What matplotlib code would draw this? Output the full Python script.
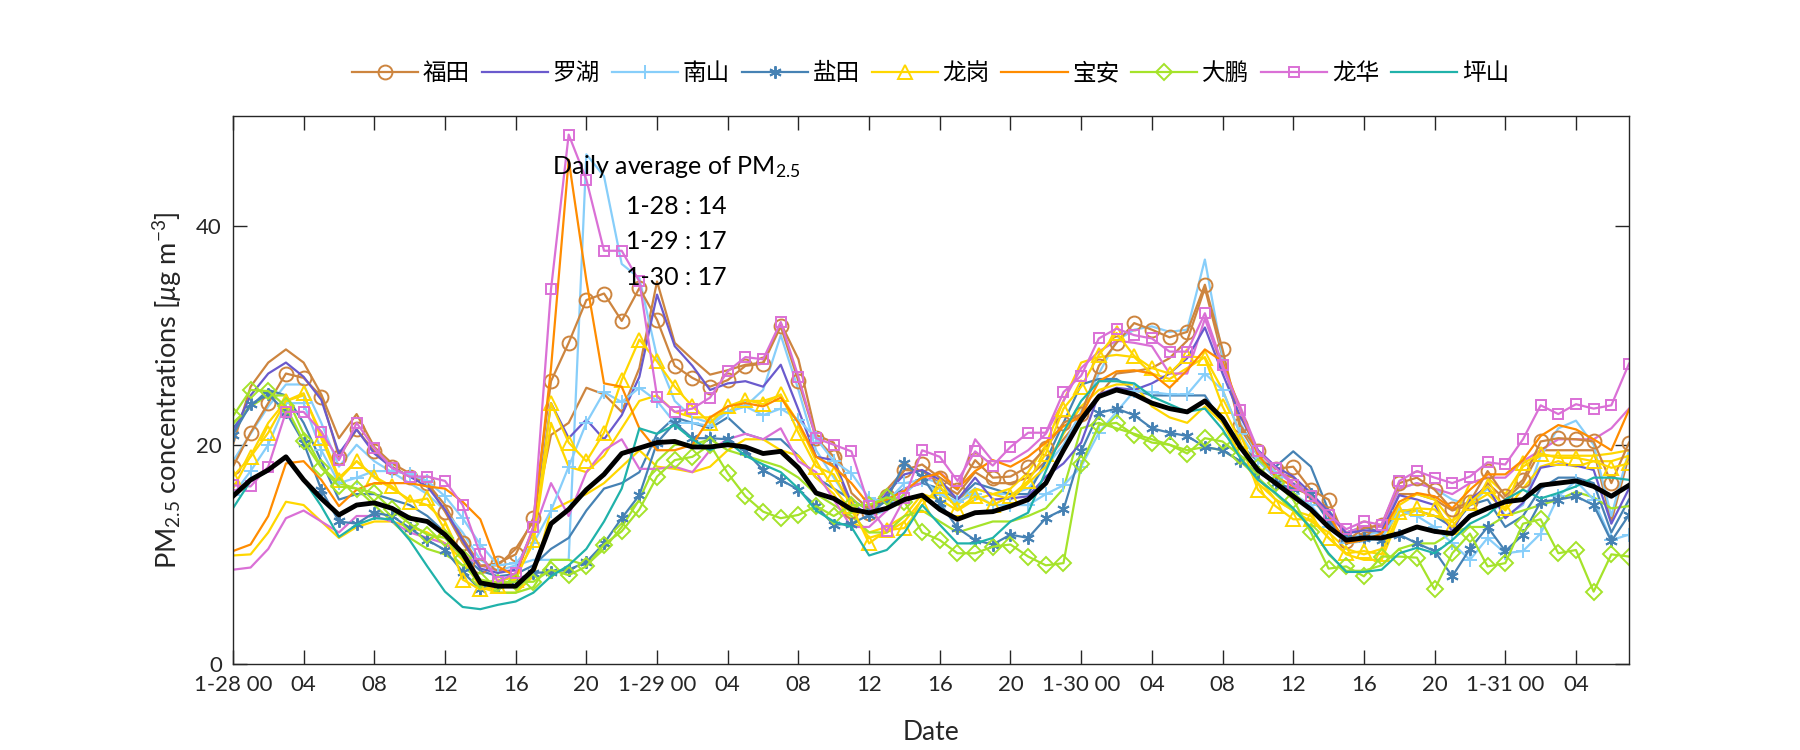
import numpy as np
import matplotlib.pyplot as plt

plt.rcParams['font.family'] = ['Lato', 'Noto Sans CJK SC', 'DejaVu Sans']
plt.rcParams['mathtext.fontset'] = 'custom'
plt.rcParams['mathtext.rm'] = 'Lato'
plt.rcParams['mathtext.it'] = 'Lato:italic'

# hourly data, 1-28 00 to 1-31 07
hours = np.arange(80)

futian = [18.0, 21.1, 23.8, 26.5, 26.1, 24.4, 18.9, 21.4, 19.4, 18.0,
          17.1, 16.5, 13.9, 11.0, 8.9, 9.2, 10.0, 13.3, 25.8, 29.3,
          33.2, 33.8, 31.3, 34.3, 31.4, 27.2, 26.1, 25.3, 25.9, 27.2,
          27.4, 30.8, 25.8, 20.6, 18.9, 14.0, 13.8, 15.3, 17.7, 18.2,
          17.0, 15.9, 18.6, 17.0, 17.1, 18.0, 19.7, 22.0, 22.8, 27.2,
          29.3, 31.1, 30.5, 29.8, 30.3, 34.6, 28.7, 21.8, 19.4, 17.8,
          18.0, 15.9, 15.0, 11.2, 12.4, 12.7, 16.5, 17.0, 15.9, 14.1,
          14.8, 17.6, 15.3, 16.8, 20.3, 20.6, 20.5, 20.3, 16.5, 20.2]
futian2 = [20.0, 25.3, 27.5, 28.7, 27.5, 24.6, 20.6, 22.8, 19.8, 18.3,
           17.4, 16.5, 14.5, 11.5, 9.0, 9.0, 10.5, 13.0, 20.9, 22.0,
           25.2, 24.6, 23.0, 27.0, 34.9, 29.3, 27.8, 26.4, 26.8, 27.3,
           27.5, 31.1, 27.8, 20.9, 20.2, 15.6, 14.1, 15.9, 17.7, 17.6,
           16.5, 15.5, 17.5, 16.5, 16.5, 17.0, 18.5, 20.5, 22.5, 24.5,
           26.5, 26.7, 27.0, 27.9, 29.5, 34.3, 28.0, 21.5, 19.0, 17.5,
           17.0, 15.0, 13.5, 11.0, 12.0, 12.0, 15.5, 15.5, 15.0, 14.0,
           14.5, 16.5, 15.0, 16.5, 19.5, 19.5, 19.5, 19.5, 13.0, 19.0]
luohu = [21.0, 24.5, 26.5, 27.5, 26.2, 24.1, 19.2, 21.4, 19.2, 17.9,
         17.1, 16.2, 14.1, 11.3, 8.7, 8.3, 8.6, 12.2, 23.8, 20.6,
         22.3, 20.5, 22.7, 26.2, 33.7, 29.0, 27.2, 25.0, 25.6, 25.8,
         25.3, 27.3, 23.2, 18.9, 18.6, 14.7, 13.5, 15.6, 17.3, 17.7,
         16.8, 15.0, 17.0, 15.0, 15.1, 15.3, 17.1, 18.3, 20.2, 24.6,
         25.2, 25.0, 25.6, 26.5, 27.9, 30.7, 26.5, 22.6, 19.5, 18.0,
         17.1, 15.6, 13.9, 11.9, 12.2, 12.1, 15.4, 15.0, 14.5, 12.1,
         15.0, 16.2, 13.3, 14.7, 17.9, 18.2, 18.1, 17.7, 12.8, 16.0]
nanshan = [15.4, 17.6, 20.0, 23.8, 23.8, 19.5, 16.5, 17.0, 17.6, 17.6,
           17.3, 16.7, 15.3, 13.3, 10.9, 9.0, 9.2, 11.0, 14.0, 18.0,
           22.0, 24.8, 23.9, 25.2, 24.0, 22.0, 22.0, 21.7, 23.0, 23.5,
           22.7, 23.3, 22.3, 20.6, 18.5, 17.4, 15.1, 14.8, 16.5, 16.8,
           15.5, 14.8, 15.5, 14.5, 14.5, 14.5, 15.5, 16.3, 18.0, 21.1,
           23.0, 24.9, 24.8, 24.6, 24.6, 26.5, 25.0, 21.0, 18.5, 17.0,
           15.5, 14.5, 12.5, 11.0, 11.2, 11.5, 14.0, 13.5, 12.5, 11.0,
           9.5, 11.5, 10.1, 10.3, 11.9, 15.3, 16.7, 15.0, 11.3, 11.8]
nanshan2 = [18.5, 21.0, 23.5, 25.5, 25.5, 22.0, 18.0, 20.0, 18.5, 17.5,
            16.5, 15.5, 14.0, 12.0, 9.5, 8.5, 9.0, 9.5, 9.5, 9.5,
            46.5, 44.5, 36.5, 35.2, 28.0, 24.0, 22.5, 22.0, 23.0, 23.5,
            25.0, 30.0, 25.0, 19.5, 17.0, 14.5, 13.5, 14.0, 15.5, 17.0,
            16.5, 15.0, 16.0, 15.5, 15.5, 16.0, 18.0, 20.0, 23.0, 26.5,
            29.5, 30.5, 30.8, 30.3, 30.5, 36.9, 28.0, 22.0, 19.0, 17.5,
            16.5, 15.5, 13.0, 11.5, 11.8, 12.0, 16.0, 16.5, 16.0, 15.0,
            14.5, 16.0, 13.5, 14.5, 19.0, 21.5, 22.2, 20.0, 13.5, 19.5]
yantian = [20.9, 23.7, 24.6, 23.0, 20.2, 15.9, 13.0, 12.8, 13.8, 13.5,
           12.4, 11.3, 10.4, 8.4, 6.8, 7.2, 7.7, 8.3, 8.4, 8.6,
           9.3, 11.0, 13.3, 15.4, 20.2, 22.0, 20.6, 20.6, 20.5, 19.4,
           17.7, 16.8, 15.9, 14.4, 12.7, 12.8, 13.6, 15.0, 18.3, 17.1,
           14.7, 12.4, 11.3, 10.9, 11.8, 11.5, 13.3, 14.1, 19.4, 22.9,
           23.3, 22.7, 21.5, 21.1, 20.8, 19.8, 19.5, 18.5, 17.5, 16.5,
           16.0, 15.5, 13.0, 11.5, 11.5, 11.3, 11.8, 11.0, 10.3, 8.0,
           10.5, 12.5, 10.3, 11.8, 14.8, 15.0, 15.3, 14.5, 11.2, 13.6]
yantian2 = [21.5, 23.5, 25.0, 24.5, 22.0, 18.5, 15.0, 15.5, 15.5, 15.0,
            14.5, 13.5, 12.0, 10.0, 8.5, 8.0, 8.2, 9.0, 10.5, 11.5,
            14.0, 16.0, 16.5, 17.5, 21.0, 22.5, 22.0, 21.5, 22.5, 21.0,
            20.5, 20.5, 19.0, 17.0, 16.0, 15.0, 14.0, 15.0, 16.0, 16.5,
            16.0, 15.0, 16.5, 16.0, 15.5, 15.5, 18.5, 22.0, 25.5, 26.0,
            26.0, 25.0, 24.5, 24.5, 24.5, 24.5, 22.0, 20.0, 18.5, 18.0,
            19.4, 18.0, 14.0, 12.0, 12.5, 12.0, 14.0, 14.0, 13.5, 12.5,
            14.5, 15.0, 12.5, 13.5, 16.0, 17.0, 17.0, 16.5, 12.0, 15.0]
longgang = [17.1, 18.9, 21.1, 24.0, 24.7, 20.6, 16.8, 18.5, 17.1, 16.2,
            14.8, 15.1, 12.2, 7.7, 6.8, 7.1, 7.7, 11.3, 23.8, 20.2,
            18.5, 21.1, 25.9, 29.6, 27.6, 25.3, 23.5, 22.0, 23.5, 24.1,
            23.7, 24.6, 21.1, 18.0, 17.3, 14.4, 11.0, 12.2, 12.4, 14.5,
            16.2, 14.1, 15.3, 14.5, 15.3, 16.7, 19.2, 23.3, 25.3, 28.2,
            30.2, 28.1, 27.0, 26.5, 28.1, 27.9, 23.5, 20.3, 15.9, 14.4,
            13.2, 13.2, 11.5, 10.1, 10.3, 10.0, 13.9, 14.2, 14.1, 12.5,
            14.7, 16.2, 14.2, 18.3, 19.2, 18.8, 18.8, 18.5, 17.9, 18.3]
longgang2 = [9.9, 10.0, 12.0, 14.8, 14.5, 13.0, 11.5, 12.5, 13.0, 13.0,
             12.5, 12.0, 11.0, 9.5, 7.0, 6.5, 6.5, 8.0, 14.0, 14.8,
             15.5, 16.5, 18.0, 19.5, 18.0, 17.8, 17.5, 18.0, 19.5, 20.5,
             20.5, 19.5, 19.0, 17.0, 15.5, 13.0, 12.0, 12.5, 13.5, 15.5,
             15.0, 14.0, 15.0, 15.5, 15.0, 16.5, 18.0, 21.0, 23.5, 25.0,
             25.5, 25.5, 23.5, 22.5, 22.0, 23.5, 22.0, 19.0, 16.5, 15.0,
             14.0, 13.5, 11.5, 10.0, 9.5, 9.5, 13.5, 14.0, 13.5, 13.0,
             14.5, 15.5, 14.0, 16.0, 18.0, 18.5, 18.0, 18.5, 18.5, 19.0]
longgang3 = [16.0, 19.0, 22.0, 24.0, 24.5, 21.0, 17.0, 18.5, 17.0, 16.0,
             15.0, 14.5, 13.0, 9.5, 7.5, 7.5, 8.0, 11.0, 22.0, 18.0,
             17.5, 19.0, 21.5, 24.0, 24.5, 23.0, 22.5, 22.5, 23.0, 24.0,
             24.0, 24.5, 22.0, 18.5, 16.0, 14.0, 11.5, 12.0, 13.0, 15.0,
             15.5, 14.5, 16.0, 15.5, 16.0, 17.5, 20.0, 24.0, 27.5, 28.0,
             28.2, 28.0, 26.5, 26.0, 27.0, 28.0, 25.0, 21.0, 17.0, 15.0,
             14.0, 13.0, 12.0, 10.5, 10.0, 10.5, 14.5, 15.5, 15.0, 13.0,
             16.5, 17.0, 15.5, 18.0, 19.0, 19.0, 19.0, 19.0, 19.2, 19.5]
baoan = [10.3, 10.9, 13.5, 18.3, 18.5, 16.8, 14.4, 15.9, 16.5, 16.5,
         16.5, 16.2, 16.0, 14.8, 13.2, 8.9, 8.0, 12.5, 27.0, 46.0,
         35.0, 25.6, 25.3, 21.5, 19.5, 19.5, 20.0, 22.5, 23.5, 23.8,
         23.5, 24.3, 22.0, 18.9, 18.0, 16.5, 14.5, 15.0, 15.8, 17.0,
         17.4, 16.0, 17.6, 18.6, 18.0, 18.9, 20.2, 21.7, 22.6, 25.8,
         26.7, 26.8, 26.5, 25.2, 26.8, 28.7, 27.6, 23.2, 19.1, 17.1,
         16.2, 15.3, 13.6, 11.0, 11.3, 11.9, 14.8, 15.6, 15.3, 14.2,
         15.9, 17.3, 17.3, 18.6, 20.8, 21.8, 21.4, 20.5, 19.5, 23.2]
dapeng = [22.6, 25.0, 24.9, 23.5, 20.3, 17.9, 16.2, 16.0, 15.6, 14.1,
          12.8, 11.8, 11.5, 9.7, 7.7, 7.4, 7.5, 7.5, 8.6, 8.1,
          8.9, 10.9, 12.1, 14.1, 17.1, 18.6, 18.9, 20.0, 17.4, 15.3,
          13.9, 13.3, 13.6, 14.4, 13.5, 14.5, 14.5, 15.2, 14.8, 12.0,
          11.3, 10.1, 10.1, 10.7, 10.9, 9.8, 9.0, 9.2, 18.2, 21.8,
          22.0, 20.9, 20.2, 20.0, 19.2, 20.6, 20.3, 19.0, 18.0, 16.5,
          15.0, 12.0, 8.7, 8.9, 8.0, 9.8, 9.8, 9.7, 6.8, 10.1,
          11.9, 8.9, 9.2, 12.8, 13.2, 10.1, 10.4, 6.6, 10.0, 9.8]
dapeng2 = [22.0, 23.5, 24.5, 24.5, 21.0, 18.0, 16.5, 16.0, 14.5, 13.0,
           11.5, 10.5, 10.0, 9.0, 7.5, 6.5, 6.5, 7.0, 9.5, 9.5,
           9.0, 10.5, 12.5, 15.0, 18.5, 20.0, 20.0, 20.5, 19.5, 19.0,
           18.5, 18.0, 17.0, 15.5, 14.5, 13.5, 12.0, 12.0, 13.5, 14.0,
           13.0, 12.0, 12.5, 13.0, 13.0, 13.5, 14.2, 16.0, 21.5, 22.0,
           21.5, 21.0, 20.5, 20.0, 19.5, 19.8, 19.5, 18.5, 17.0, 15.5,
           14.0, 12.5, 10.0, 8.5, 8.5, 9.0, 10.5, 11.0, 11.0, 12.0,
           12.5, 12.5, 13.5, 14.0, 14.5, 15.0, 15.7, 15.2, 14.2, 14.4]
longhua = [16.3, 16.2, 18.0, 23.0, 23.0, 21.2, 18.6, 22.0, 19.7, 17.9,
           17.1, 17.1, 16.7, 14.5, 10.0, 7.5, 8.3, 12.5, 34.2, 48.3,
           44.2, 37.7, 37.7, 34.9, 24.4, 23.0, 23.3, 24.3, 26.7, 28.0,
           27.8, 31.2, 26.2, 20.6, 20.0, 19.4, 14.4, 12.1, 15.1, 19.5,
           18.9, 16.7, 19.4, 18.1, 19.8, 21.1, 21.1, 24.8, 26.3, 29.7,
           30.6, 30.0, 29.7, 28.5, 28.5, 32.0, 27.3, 23.2, 19.4, 17.9,
           16.3, 15.3, 13.6, 12.3, 13.0, 12.7, 16.7, 17.6, 17.0, 16.5,
           17.1, 18.4, 18.2, 20.5, 23.6, 22.8, 23.7, 23.3, 23.6, 27.4]
longhua2 = [8.6, 8.8, 10.5, 13.3, 14.0, 13.0, 12.0, 13.5, 13.5, 13.0,
            12.0, 11.5, 11.0, 10.0, 9.0, 8.5, 8.5, 12.0, 16.5, 13.5,
            17.5, 19.5, 20.5, 17.8, 17.8, 18.0, 17.5, 19.5, 20.5, 21.0,
            20.5, 21.5, 18.5, 17.5, 15.0, 12.5, 12.5, 14.0, 16.0, 16.5,
            17.5, 16.0, 20.5, 18.5, 18.5, 19.5, 21.0, 24.0, 27.0, 28.5,
            29.5, 29.3, 29.0, 26.5, 26.5, 31.5, 27.0, 23.5, 19.5, 18.0,
            16.5, 15.5, 13.5, 12.0, 12.5, 12.5, 16.0, 16.5, 16.0, 15.5,
            16.5, 17.0, 17.0, 18.5, 19.5, 20.5, 20.5, 20.5, 21.5, 23.3]
pingshan = [14.2, 16.7, 17.6, 18.9, 16.8, 14.4, 11.6, 12.7, 13.3, 13.2,
            11.3, 8.9, 6.6, 5.2, 5.0, 5.4, 5.7, 6.5, 8.0, 9.0,
            10.5, 13.0, 16.0, 21.5, 21.0, 21.8, 20.5, 19.5, 20.3, 19.0,
            18.2, 17.5, 16.0, 14.0, 13.0, 12.5, 9.9, 10.4, 12.0, 14.5,
            12.7, 11.0, 11.0, 11.5, 13.0, 13.8, 17.6, 21.2, 24.0, 25.8,
            25.8, 25.6, 24.4, 23.7, 23.0, 23.3, 21.4, 18.8, 16.8, 15.6,
            14.2, 12.4, 10.1, 8.4, 8.4, 8.6, 10.1, 10.6, 10.1, 11.3,
            12.8, 13.6, 15.0, 15.9, 15.1, 15.6, 16.2, 17.0, 17.0, 16.8]
mean_all = [15.3, 16.8, 17.7, 18.9, 16.8, 15.1, 13.6, 14.5, 14.7, 14.2,
            13.3, 13.0, 11.8, 10.1, 7.4, 7.1, 7.1, 8.6, 12.8, 14.1,
            15.9, 17.3, 19.2, 19.7, 20.2, 20.3, 19.8, 19.8, 20.0, 19.8,
            19.2, 19.4, 17.9, 15.6, 15.1, 14.1, 13.8, 14.2, 15.0, 15.4,
            14.1, 13.2, 13.8, 13.9, 14.4, 15.0, 16.5, 19.5, 22.3, 24.4,
            25.0, 24.6, 23.8, 23.3, 23.0, 24.0, 22.4, 19.8, 17.7, 16.5,
            15.3, 14.1, 12.5, 11.3, 11.5, 11.5, 11.9, 12.5, 12.1, 11.9,
            13.5, 14.2, 14.8, 15.0, 16.3, 16.5, 16.7, 16.2, 15.3, 16.3]

tick_pos = [0, 4, 8, 12, 16, 20, 24, 28, 32, 36, 40, 44, 48, 52, 56, 60, 64, 68, 72, 76]
tick_labels = ['1-28 00', '04', '08', '12', '16', '20',
               '1-29 00', '04', '08', '12', '16', '20',
               '1-30 00', '04', '08', '12', '16', '20',
               '1-31 00', '04']
days = ['1-28', '1-29', '1-30']
day_avg = [14, 17, 17]

fig = plt.figure(figsize=(18, 7.5), dpi=100)
ax = fig.add_axes([0.1294, 0.1147, 0.7756, 0.7307])

asterisk = (6, 2, 0)

# (values, colour, marker, markersize, label)
series = [
    (futian, '#CD853F', 'o', 10, '福田'),
    (luohu, '#6A5ACD', None, 0, '罗湖'),
    (nanshan, '#87CEFA', '+', 10, '南山'),
    (yantian, '#4682B4', asterisk, 9, '盐田'),
    (longgang, '#FFD700', '^', 10, '龙岗'),
    (baoan, '#FF8C00', None, 0, '宝安'),
    (dapeng, '#A5E32A', 'D', 8, '大鹏'),
    (longhua, '#DA70D6', 's', 7, '龙华'),
    (pingshan, '#20B2AA', None, 0, '坪山'),
]
extra = [
    (futian2, '#CD853F'), (nanshan2, '#87CEFA'), (yantian2, '#4682B4'),
    (longgang2, '#FFD700'), (longgang3, '#FFD700'), (dapeng2, '#A5E32A'),
    (longhua2, '#DA70D6'),
]

for vals, c in extra:
    ax.plot(hours, vals, color=c, lw=1.6)

handles = []
for vals, c, m, ms, lab in series:
    h, = ax.plot(hours, vals, color=c, lw=1.6, marker=m, ms=ms,
                 mfc='none', mec=c, mew=1.4, label=lab)
    handles.append(h)

ax.plot(hours, mean_all, color='black', lw=3.5, zorder=5)

ax.set_xlim(0, 79)
ax.set_ylim(0, 50)
ax.set_yticks([0, 20, 40])
ax.set_xticks(tick_pos)
ax.set_xticklabels(tick_labels)
ax.tick_params(direction='in', length=10, width=1, top=True, right=True,
               labelsize=16, colors='#262626', pad=8)
for s in ax.spines.values():
    s.set_color('#262626')
    s.set_linewidth(1)

ax.set_xlabel('Date', fontsize=19, color='#262626', labelpad=18)
ax.set_ylabel(r'PM$_{2.5}$ concentrations [$\mu$g m$^{-3}$]', fontsize=19.5,
              color='#262626', labelpad=9)

ax.text(25.1, 45.4, r'Daily average of PM$_{2.5}$', fontsize=18, ha='center', va='center')
for i, (d, v) in enumerate(zip(days, day_avg)):
    ax.text(25.1, 41.7 - 3.2 * i, f'{d} : {v}', fontsize=18, ha='center', va='center')

fig.legend(handles=handles, loc='center', bbox_to_anchor=(0.517, 0.903), ncol=9,
           frameon=False, fontsize=17, handlelength=2.8, handletextpad=0.2,
           columnspacing=0.5)

fig.savefig('out.png', dpi=100)
